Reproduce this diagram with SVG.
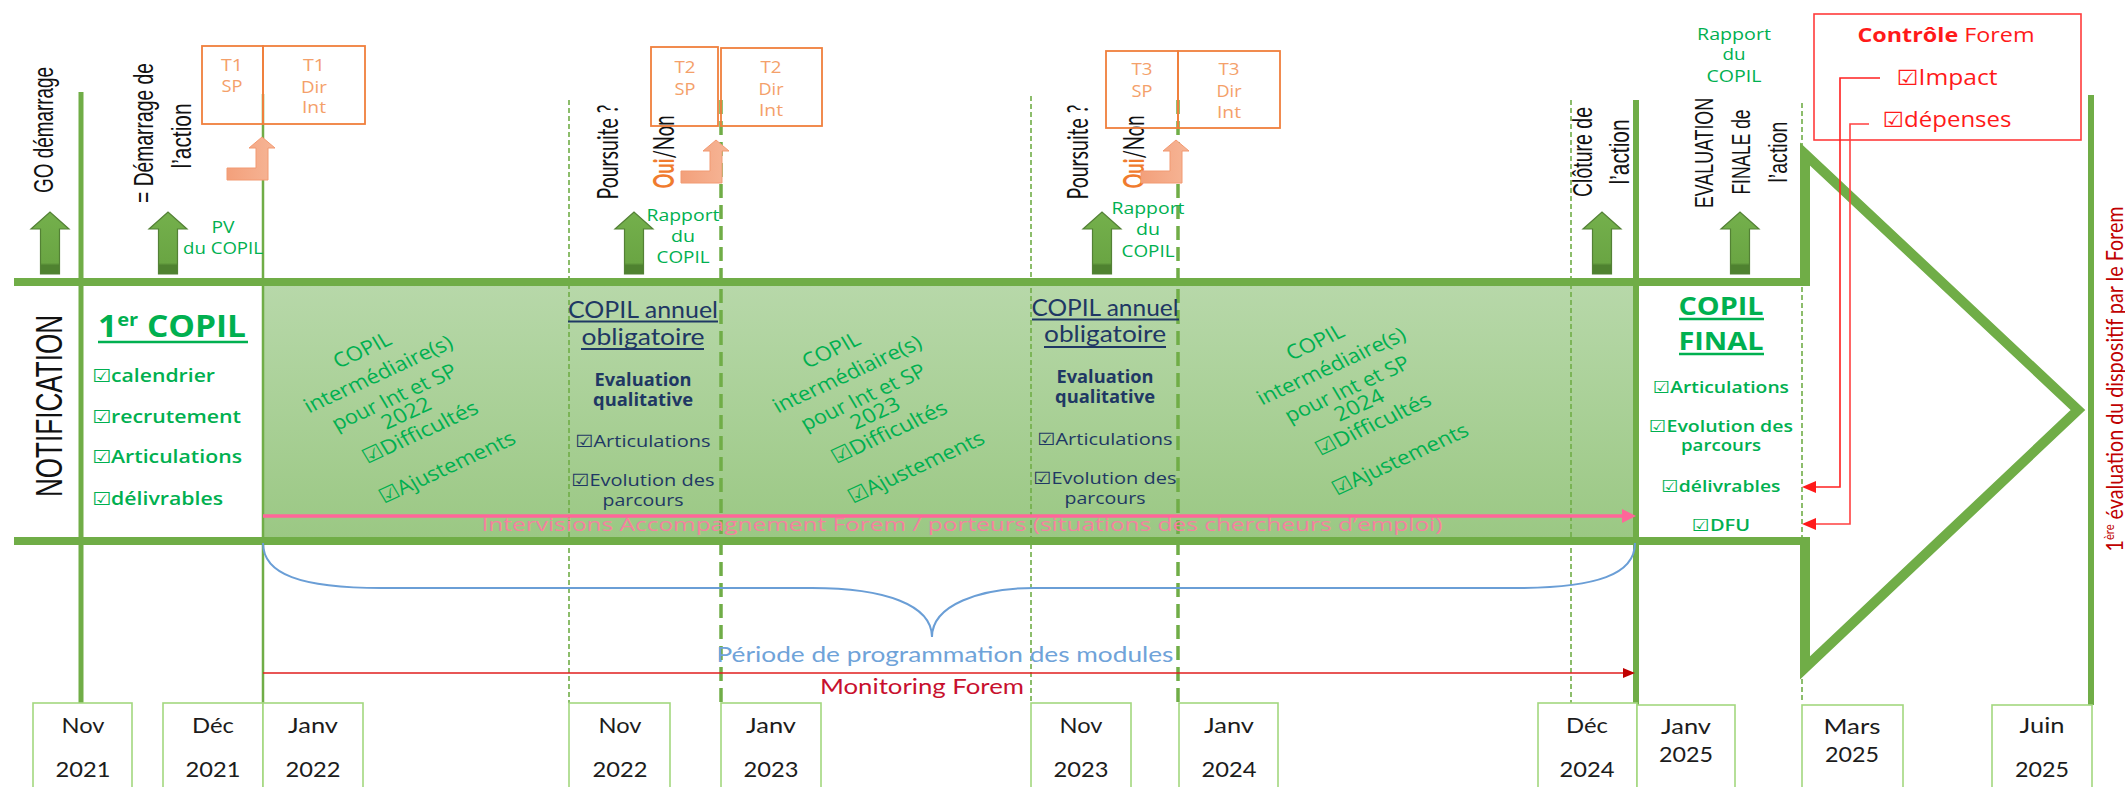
<svg xmlns="http://www.w3.org/2000/svg" width="2125" height="787" viewBox="0 0 2125 787">
<style>
.sd{stroke:#70AD47;stroke-width:1.6;stroke-dasharray:5 3;fill:none}
.ld{stroke:#70AD47;stroke-width:3.5;stroke-dasharray:14 7;fill:none}
.sl{stroke:#70AD47;fill:none}
.tbox{fill:none;stroke:#F07F3C;stroke-width:1.8}
.dbox{fill:#fff;stroke:#A3D77F;stroke-width:1.6}
.lab{font-family:"Liberation Sans",Arial,sans-serif;fill:#111;text-anchor:middle}
.lato{font-family:Lato,"Liberation Sans",sans-serif}
.cal{font-family:Lato,"Liberation Sans",sans-serif}
.seg{font-family:"Open Sans","DejaVu Sans",sans-serif}
.grn{fill:#00B050}
.nav{fill:#1F3864}
.org{font-family:"Open Sans","DejaVu Sans",sans-serif;font-size:16px;fill:#F4A06A;text-anchor:middle}
.dt{font-family:Lato,"Liberation Sans",sans-serif;font-size:22px;fill:#1c1c1c;text-anchor:middle}
.ck{font-family:"Open Sans","DejaVu Sans",sans-serif;font-weight:600;fill:#00B050}
.nv{font-family:"Open Sans","DejaVu Sans",sans-serif;fill:#1F3864;text-anchor:middle;font-size:17px}
.diag{font-family:"Open Sans","DejaVu Sans",sans-serif;font-size:20px;fill:#00B050;text-anchor:middle}
.rap{font-family:"Open Sans","DejaVu Sans",sans-serif;font-size:16px;fill:#00B050;text-anchor:middle}
.up{fill:url(#arrowFill);stroke:#538135;stroke-width:1.2}
.bent{fill:url(#bentFill);stroke:#F29A72;stroke-width:1}
</style>
<defs>
  <linearGradient id="bandFill" x1="0" y1="0" x2="0" y2="1">
    <stop offset="0" stop-color="#B7D8A9"/>
    <stop offset="1" stop-color="#9BC884"/>
  </linearGradient>
  <linearGradient id="arrowFill" x1="0" y1="0" x2="0" y2="1">
    <stop offset="0" stop-color="#74B04C"/>
    <stop offset="0.82" stop-color="#6AA543"/>
    <stop offset="0.86" stop-color="#4F8230"/>
    <stop offset="1" stop-color="#4F8230"/>
  </linearGradient>
  <linearGradient id="bentFill" x1="0" y1="0" x2="1" y2="0">
    <stop offset="0" stop-color="#F3A07B"/>
    <stop offset="1" stop-color="#F6B596"/>
  </linearGradient>
  <path id="upArrow" d="M-9.5,274 V229 H-19 L0,212 L19,229 H9.5 V274 Z"/>
  <path id="bentArrow" d="M-35,168 H-6 V148 H-13 L0,137 L13,148 H6 V180 H-35 Z"/>
  <marker id="pinkHead" markerUnits="userSpaceOnUse" markerWidth="14" markerHeight="14" viewBox="0 0 14 14" refX="0" refY="7" orient="auto">
    <path d="M0,0 L14,7 L0,14 Z" fill="#FF6699"/>
  </marker>
  <marker id="monHead" markerUnits="userSpaceOnUse" markerWidth="12" markerHeight="10" viewBox="0 0 12 10" refX="0" refY="5" orient="auto">
    <path d="M0,0 L12,5 L0,10 Z" fill="#C00000"/>
  </marker>
  <marker id="redHead" markerUnits="userSpaceOnUse" markerWidth="14" markerHeight="12" viewBox="0 0 14 12" refX="0" refY="6" orient="auto">
    <path d="M0,0 L14,6 L0,12 Z" fill="#FF1A1A"/>
  </marker>
</defs>

<rect width="2125" height="787" fill="#fff"/>

<g id="band-fill">
  <rect x="263" y="286" width="1373" height="251" fill="url(#bandFill)"/>
</g>

<g id="timeline">
  <line class="sl" x1="81" y1="92" x2="81" y2="703" stroke-width="5"/>
  <line class="sl" x1="263" y1="94" x2="263" y2="703" stroke-width="2.5"/>
  <line class="sd" x1="569" y1="100" x2="569" y2="703"/>
  <line class="ld" x1="721" y1="100" x2="721" y2="703"/>
  <line class="sd" x1="1031" y1="96" x2="1031" y2="703"/>
  <line class="ld" x1="1178" y1="100" x2="1178" y2="703"/>
  <line class="sd" x1="1571" y1="100" x2="1571" y2="703"/>
  <line class="sl" x1="1636" y1="100" x2="1636" y2="705" stroke-width="6"/>
  <line class="sd" x1="1802" y1="103" x2="1802" y2="703"/>
  <line class="sl" x1="2091" y1="95" x2="2091" y2="705" stroke-width="6"/>
</g>

<g id="frame">
  <line class="sl" x1="14" y1="282" x2="1810" y2="282" stroke-width="8"/>
  <line class="sl" x1="14" y1="541" x2="1810" y2="541" stroke-width="8"/>
  <path class="sl" d="M1805,286 V154 L2078,410 L1805,668 V537" stroke-width="10" stroke-linejoin="miter"/>
</g>

<g id="label-go">
  <text class="lab" font-size="27" transform="translate(53,130) rotate(-90)" textLength="126" lengthAdjust="spacingAndGlyphs">GO démarrage</text>
  <use href="#upArrow" class="up" transform="translate(50,0)"/>
</g>
<g id="label-demarrage">
  <text class="lab" font-size="27" transform="translate(153,133) rotate(-90)" textLength="140" lengthAdjust="spacingAndGlyphs">= Démarrage de</text>
  <text class="lab" font-size="27" transform="translate(191,136) rotate(-90)" textLength="65" lengthAdjust="spacingAndGlyphs">l’action</text>
  <use href="#upArrow" class="up" transform="translate(168,0)"/>
  <text class="rap" x="223" y="233" textLength="23" lengthAdjust="spacingAndGlyphs">PV</text>
  <text class="rap" x="223" y="254" textLength="80" lengthAdjust="spacingAndGlyphs">du COPIL</text>
</g>
<g id="t1">
  <rect class="tbox" x="202" y="46" width="61" height="78"/>
  <rect class="tbox" x="263" y="46" width="102" height="78"/>
  <text class="org" x="232" y="71" textLength="22" lengthAdjust="spacingAndGlyphs">T1</text>
  <text class="org" x="232" y="92" textLength="21" lengthAdjust="spacingAndGlyphs">SP</text>
  <text class="org" x="314" y="71" textLength="22" lengthAdjust="spacingAndGlyphs">T1</text>
  <text class="org" x="314" y="93" textLength="26" lengthAdjust="spacingAndGlyphs">Dir</text>
  <text class="org" x="314" y="113" textLength="24" lengthAdjust="spacingAndGlyphs">Int</text>
</g>
<g id="poursuite-2022">
  <text class="lab lato" font-size="28" transform="translate(618,152) rotate(-90)" textLength="95" lengthAdjust="spacingAndGlyphs">Poursuite ?</text>
  <text class="lab lato" font-size="28" transform="translate(674,152) rotate(-90)" textLength="73" lengthAdjust="spacingAndGlyphs"><tspan fill="#F07B2E" font-weight="bold">Oui</tspan>/Non</text>
  <use href="#upArrow" class="up" transform="translate(634,0)"/>
  <text class="rap" x="683" y="221" textLength="73" lengthAdjust="spacingAndGlyphs">Rapport</text>
  <text class="rap" x="683" y="242" textLength="24" lengthAdjust="spacingAndGlyphs">du</text>
  <text class="rap" x="683" y="263" textLength="53" lengthAdjust="spacingAndGlyphs">COPIL</text>
</g>
<g id="t2">
  <rect class="tbox" x="651" y="47" width="67" height="79"/>
  <rect class="tbox" x="721" y="48" width="101" height="78"/>
  <text class="org" x="685" y="73" textLength="21" lengthAdjust="spacingAndGlyphs">T2</text>
  <text class="org" x="685" y="95" textLength="21" lengthAdjust="spacingAndGlyphs">SP</text>
  <text class="org" x="771" y="73" textLength="21" lengthAdjust="spacingAndGlyphs">T2</text>
  <text class="org" x="771" y="95" textLength="25" lengthAdjust="spacingAndGlyphs">Dir</text>
  <text class="org" x="771" y="116" textLength="24" lengthAdjust="spacingAndGlyphs">Int</text>
</g>
<g id="poursuite-2023">
  <text class="lab lato" font-size="28" transform="translate(1088,152) rotate(-90)" textLength="95" lengthAdjust="spacingAndGlyphs">Poursuite ?</text>
  <text class="lab lato" font-size="28" transform="translate(1144,152) rotate(-90)" textLength="73" lengthAdjust="spacingAndGlyphs"><tspan fill="#F07B2E" font-weight="bold">Oui</tspan>/Non</text>
  <use href="#upArrow" class="up" transform="translate(1102,0)"/>
  <text class="rap" x="1148" y="214" textLength="73" lengthAdjust="spacingAndGlyphs">Rapport</text>
  <text class="rap" x="1148" y="235" textLength="24" lengthAdjust="spacingAndGlyphs">du</text>
  <text class="rap" x="1148" y="257" textLength="53" lengthAdjust="spacingAndGlyphs">COPIL</text>
</g>
<g id="t3">
  <rect class="tbox" x="1106" y="51" width="72" height="77"/>
  <rect class="tbox" x="1178" y="51" width="102" height="77"/>
  <text class="org" x="1142" y="75" textLength="21" lengthAdjust="spacingAndGlyphs">T3</text>
  <text class="org" x="1142" y="97" textLength="21" lengthAdjust="spacingAndGlyphs">SP</text>
  <text class="org" x="1229" y="75" textLength="21" lengthAdjust="spacingAndGlyphs">T3</text>
  <text class="org" x="1229" y="97" textLength="25" lengthAdjust="spacingAndGlyphs">Dir</text>
  <text class="org" x="1229" y="118" textLength="24" lengthAdjust="spacingAndGlyphs">Int</text>
</g>
<g id="label-cloture">
  <text class="lab" font-size="27" transform="translate(1592,152) rotate(-90)" textLength="90" lengthAdjust="spacingAndGlyphs">Clôture de</text>
  <text class="lab" font-size="27" transform="translate(1629,152) rotate(-90)" textLength="65" lengthAdjust="spacingAndGlyphs">l’action</text>
  <use href="#upArrow" class="up" transform="translate(1602,0)"/>
</g>
<g id="label-evaluation">
  <text class="rap" x="1734" y="40" textLength="74" lengthAdjust="spacingAndGlyphs">Rapport</text>
  <text class="rap" x="1734" y="60" textLength="23" lengthAdjust="spacingAndGlyphs">du</text>
  <text class="rap" x="1734" y="82" textLength="55" lengthAdjust="spacingAndGlyphs">COPIL</text>
  <text class="lab" font-size="26" transform="translate(1713,153) rotate(-90)" textLength="110" lengthAdjust="spacingAndGlyphs">EVALUATION</text>
  <text class="lab" font-size="26" transform="translate(1750,152) rotate(-90)" textLength="85" lengthAdjust="spacingAndGlyphs">FINALE de</text>
  <text class="lab" font-size="26" transform="translate(1787,152) rotate(-90)" textLength="61" lengthAdjust="spacingAndGlyphs">l’action</text>
  <use href="#upArrow" class="up" transform="translate(1740,0)"/>
</g>
<g id="controle-forem">
  <rect x="1814" y="14" width="267" height="126" fill="none" stroke="#FF3B3B" stroke-width="1.6"/>
  <text class="seg" x="1946" y="42" font-size="20" fill="#FF1A1A" text-anchor="middle" textLength="177" lengthAdjust="spacingAndGlyphs"><tspan font-weight="bold">Contrôle</tspan> Forem</text>
  <text class="seg" x="1947" y="85" font-size="21" fill="#FF1A1A" text-anchor="middle" textLength="101" lengthAdjust="spacingAndGlyphs">☑Impact</text>
  <text class="seg" x="1947" y="127" font-size="21" fill="#FF1A1A" text-anchor="middle" textLength="129" lengthAdjust="spacingAndGlyphs">☑dépenses</text>
</g>
<g id="label-1ere-evaluation">
  <text class="cal" font-size="23" fill="#C00000" text-anchor="middle" transform="translate(2123,379) rotate(-90)" textLength="345" lengthAdjust="spacingAndGlyphs">1<tspan font-size="13" dy="-9">ère</tspan><tspan dy="9"> évaluation du dispositif par le Forem</tspan></text>
</g>

<g id="notification">
  <text class="lab" font-size="36" transform="translate(62,406) rotate(-90)" textLength="182" lengthAdjust="spacingAndGlyphs">NOTIFICATION</text>
</g>
<g id="copil-1er">
  <text class="seg grn" x="172" y="337" font-size="30" font-weight="bold" text-anchor="middle" textLength="148" lengthAdjust="spacingAndGlyphs">1<tspan font-size="18" dy="-11">er</tspan><tspan dy="11"> COPIL</tspan></text>
  <line x1="98" y1="342" x2="248" y2="342" stroke="#00B050" stroke-width="2.5"/>
  <text class="ck" x="92" y="382" font-size="18" textLength="123" lengthAdjust="spacingAndGlyphs">☑calendrier</text>
  <text class="ck" x="92" y="423" font-size="18" textLength="149" lengthAdjust="spacingAndGlyphs">☑recrutement</text>
  <text class="ck" x="92" y="463" font-size="18" textLength="150" lengthAdjust="spacingAndGlyphs">☑Articulations</text>
  <text class="ck" x="92" y="505" font-size="18" textLength="131" lengthAdjust="spacingAndGlyphs">☑délivrables</text>
</g>

<g id="copil-inter-2022">
  <text class="diag" transform="translate(362,350) scale(1.15,1) rotate(-27.7)" dy="0.35em" textLength="54" lengthAdjust="spacingAndGlyphs">COPIL</text>
  <text class="diag" transform="translate(378,374) scale(1.15,1) rotate(-27.7)" dy="0.35em" textLength="143" lengthAdjust="spacingAndGlyphs">intermédiaire(s)</text>
  <text class="diag" transform="translate(394,397) scale(1.15,1) rotate(-27.7)" dy="0.35em" textLength="120" lengthAdjust="spacingAndGlyphs">pour Int et SP</text>
  <text class="diag" transform="translate(406,413) scale(1.15,1) rotate(-27.7)" dy="0.35em" textLength="46" lengthAdjust="spacingAndGlyphs" fill="#fff">2022</text>
  <text class="diag" transform="translate(420,432) scale(1.15,1) rotate(-27.7)" dy="0.35em" textLength="111" lengthAdjust="spacingAndGlyphs">☑Difficultés</text>
  <text class="diag" transform="translate(447,467) scale(1.15,1) rotate(-27.7)" dy="0.35em" textLength="131" lengthAdjust="spacingAndGlyphs">☑Ajustements</text>
</g>
<g id="copil-inter-2023" transform="translate(469,0)">
  <text class="diag" transform="translate(362,350) scale(1.15,1) rotate(-27.7)" dy="0.35em" textLength="54" lengthAdjust="spacingAndGlyphs">COPIL</text>
  <text class="diag" transform="translate(378,374) scale(1.15,1) rotate(-27.7)" dy="0.35em" textLength="143" lengthAdjust="spacingAndGlyphs">intermédiaire(s)</text>
  <text class="diag" transform="translate(394,397) scale(1.15,1) rotate(-27.7)" dy="0.35em" textLength="120" lengthAdjust="spacingAndGlyphs">pour Int et SP</text>
  <text class="diag" transform="translate(406,413) scale(1.15,1) rotate(-27.7)" dy="0.35em" textLength="46" lengthAdjust="spacingAndGlyphs" fill="#fff">2023</text>
  <text class="diag" transform="translate(420,432) scale(1.15,1) rotate(-27.7)" dy="0.35em" textLength="111" lengthAdjust="spacingAndGlyphs">☑Difficultés</text>
  <text class="diag" transform="translate(447,467) scale(1.15,1) rotate(-27.7)" dy="0.35em" textLength="131" lengthAdjust="spacingAndGlyphs">☑Ajustements</text>
</g>
<g id="copil-inter-2024" transform="translate(953,-8)">
  <text class="diag" transform="translate(362,350) scale(1.15,1) rotate(-27.7)" dy="0.35em" textLength="54" lengthAdjust="spacingAndGlyphs">COPIL</text>
  <text class="diag" transform="translate(378,374) scale(1.15,1) rotate(-27.7)" dy="0.35em" textLength="143" lengthAdjust="spacingAndGlyphs">intermédiaire(s)</text>
  <text class="diag" transform="translate(394,397) scale(1.15,1) rotate(-27.7)" dy="0.35em" textLength="120" lengthAdjust="spacingAndGlyphs">pour Int et SP</text>
  <text class="diag" transform="translate(406,413) scale(1.15,1) rotate(-27.7)" dy="0.35em" textLength="46" lengthAdjust="spacingAndGlyphs" fill="#fff">2024</text>
  <text class="diag" transform="translate(420,432) scale(1.15,1) rotate(-27.7)" dy="0.35em" textLength="111" lengthAdjust="spacingAndGlyphs">☑Difficultés</text>
  <text class="diag" transform="translate(447,467) scale(1.15,1) rotate(-27.7)" dy="0.35em" textLength="131" lengthAdjust="spacingAndGlyphs">☑Ajustements</text>
</g>

<g id="copil-annuel-2022">
  <text class="cal nav" x="643" y="318" font-size="24" text-anchor="middle" textLength="150" lengthAdjust="spacingAndGlyphs">COPIL annuel</text>
  <line x1="568" y1="321.5" x2="718" y2="321.5" stroke="#1F3864" stroke-width="1.8"/>
  <text class="cal nav" x="643" y="345" font-size="24" text-anchor="middle" textLength="123" lengthAdjust="spacingAndGlyphs">obligatoire</text>
  <line x1="581" y1="349" x2="704" y2="349" stroke="#1F3864" stroke-width="1.8"/>
  <text class="nv" x="643" y="386" font-size="16" font-weight="bold" textLength="97" lengthAdjust="spacingAndGlyphs">Evaluation</text>
  <text class="nv" x="643" y="406" font-size="16" font-weight="bold" textLength="100" lengthAdjust="spacingAndGlyphs">qualitative</text>
  <text class="nv" x="643" y="447" textLength="135" lengthAdjust="spacingAndGlyphs">☑Articulations</text>
  <text class="nv" x="643" y="486" textLength="143" lengthAdjust="spacingAndGlyphs">☑Evolution des</text>
  <text class="nv" x="643" y="506" textLength="81" lengthAdjust="spacingAndGlyphs">parcours</text>
</g>
<g id="copil-annuel-2023">
  <text class="cal nav" x="1105" y="316" font-size="24" text-anchor="middle" textLength="147" lengthAdjust="spacingAndGlyphs">COPIL annuel</text>
  <line x1="1032" y1="319.5" x2="1179" y2="319.5" stroke="#1F3864" stroke-width="1.8"/>
  <text class="cal nav" x="1105" y="342" font-size="24" text-anchor="middle" textLength="122" lengthAdjust="spacingAndGlyphs">obligatoire</text>
  <line x1="1044" y1="347" x2="1166" y2="347" stroke="#1F3864" stroke-width="1.8"/>
  <text class="nv" x="1105" y="383" font-size="16" font-weight="bold" textLength="97" lengthAdjust="spacingAndGlyphs">Evaluation</text>
  <text class="nv" x="1105" y="403" font-size="16" font-weight="bold" textLength="100" lengthAdjust="spacingAndGlyphs">qualitative</text>
  <text class="nv" x="1105" y="445" textLength="135" lengthAdjust="spacingAndGlyphs">☑Articulations</text>
  <text class="nv" x="1105" y="484" textLength="143" lengthAdjust="spacingAndGlyphs">☑Evolution des</text>
  <text class="nv" x="1105" y="504" textLength="81" lengthAdjust="spacingAndGlyphs">parcours</text>
</g>
<g id="copil-final">
  <text class="seg grn" x="1721" y="315" font-size="25" font-weight="bold" text-anchor="middle" textLength="85" lengthAdjust="spacingAndGlyphs">COPIL</text>
  <line x1="1679" y1="319" x2="1764" y2="319" stroke="#00B050" stroke-width="2.5"/>
  <text class="seg grn" x="1721" y="350" font-size="25" font-weight="bold" text-anchor="middle" textLength="85" lengthAdjust="spacingAndGlyphs">FINAL</text>
  <line x1="1679" y1="354" x2="1764" y2="354" stroke="#00B050" stroke-width="2.5"/>
  <text class="ck" x="1721" y="393" font-size="16.5" text-anchor="middle" textLength="136" lengthAdjust="spacingAndGlyphs">☑Articulations</text>
  <text class="ck" x="1721" y="432" font-size="16.5" text-anchor="middle" textLength="144" lengthAdjust="spacingAndGlyphs">☑Evolution des</text>
  <text class="ck" x="1721" y="451" font-size="16.5" text-anchor="middle" textLength="80" lengthAdjust="spacingAndGlyphs">parcours</text>
  <text class="ck" x="1721" y="492" font-size="16.5" text-anchor="middle" textLength="119" lengthAdjust="spacingAndGlyphs">☑délivrables</text>
  <text class="ck" x="1721" y="531" font-size="16.5" text-anchor="middle" textLength="58" lengthAdjust="spacingAndGlyphs">☑DFU</text>
</g>
<g id="intervisions">
  <text class="seg" x="962" y="531" font-size="19" fill="#F5819F" text-anchor="middle" textLength="961" lengthAdjust="spacingAndGlyphs">Intervisions Accompagnement Forem / porteurs (situations des chercheurs d’emploi)</text>
</g>
<g id="periode">
  <text class="cal" x="945" y="662" font-size="21" fill="#6FA3D9" text-anchor="middle" textLength="457" lengthAdjust="spacingAndGlyphs">Période de programmation des modules</text>
</g>
<g id="monitoring">
  <text class="cal" x="922" y="694" font-size="21" fill="#C8102E" text-anchor="middle" textLength="204" lengthAdjust="spacingAndGlyphs">Monitoring Forem</text>
</g>

<g id="connectors">
  <use href="#bentArrow" class="bent" transform="translate(262,0)"/>
  <use href="#bentArrow" class="bent" transform="translate(716,3)"/>
  <use href="#bentArrow" class="bent" transform="translate(1176,3)"/>
  <line x1="263" y1="516" x2="1622" y2="516" stroke="#FF6699" stroke-width="3.5" marker-end="url(#pinkHead)"/>
  <path d="M263,543 C263,574 300,588 382,588 L812,588 C885,588 932,605 932,637 C932,605 980,588 1034,588 L1515,588 C1598,588 1635,574 1635,543" fill="none" stroke="#6A9ED6" stroke-width="2"/>
  <line x1="263" y1="673" x2="1623" y2="673" stroke="#E01E1E" stroke-width="1.6" marker-end="url(#monHead)"/>
  <path d="M1880,78 H1840 V487 H1816" fill="none" stroke="#FF2020" stroke-width="1.6" marker-end="url(#redHead)"/>
  <path d="M1869,124 H1850 V524 H1816" fill="none" stroke="#FF4040" stroke-width="1.6" marker-end="url(#redHead)"/>
</g>

<g id="date-nov-2021"><rect class="dbox" x="33" y="703" width="99" height="100"/><text class="dt" x="83" y="733" textLength="43" lengthAdjust="spacingAndGlyphs">Nov</text><text class="dt" x="83" y="777" textLength="55" lengthAdjust="spacingAndGlyphs">2021</text></g>
<g id="date-dec-2021"><rect class="dbox" x="163" y="703" width="100" height="100"/><text class="dt" x="213" y="733" textLength="42" lengthAdjust="spacingAndGlyphs">Déc</text><text class="dt" x="213" y="777" textLength="55" lengthAdjust="spacingAndGlyphs">2021</text></g>
<g id="date-janv-2022"><rect class="dbox" x="263" y="703" width="100" height="100"/><text class="dt" x="313" y="733" textLength="50" lengthAdjust="spacingAndGlyphs">Janv</text><text class="dt" x="313" y="777" textLength="55" lengthAdjust="spacingAndGlyphs">2022</text></g>
<g id="date-nov-2022"><rect class="dbox" x="569" y="703" width="101" height="100"/><text class="dt" x="620" y="733" textLength="43" lengthAdjust="spacingAndGlyphs">Nov</text><text class="dt" x="620" y="777" textLength="55" lengthAdjust="spacingAndGlyphs">2022</text></g>
<g id="date-janv-2023"><rect class="dbox" x="721" y="703" width="100" height="100"/><text class="dt" x="771" y="733" textLength="50" lengthAdjust="spacingAndGlyphs">Janv</text><text class="dt" x="771" y="777" textLength="55" lengthAdjust="spacingAndGlyphs">2023</text></g>
<g id="date-nov-2023"><rect class="dbox" x="1031" y="703" width="100" height="100"/><text class="dt" x="1081" y="733" textLength="43" lengthAdjust="spacingAndGlyphs">Nov</text><text class="dt" x="1081" y="777" textLength="55" lengthAdjust="spacingAndGlyphs">2023</text></g>
<g id="date-janv-2024"><rect class="dbox" x="1179" y="703" width="99" height="100"/><text class="dt" x="1229" y="733" textLength="50" lengthAdjust="spacingAndGlyphs">Janv</text><text class="dt" x="1229" y="777" textLength="55" lengthAdjust="spacingAndGlyphs">2024</text></g>
<g id="date-dec-2024"><rect class="dbox" x="1538" y="703" width="99" height="100"/><text class="dt" x="1587" y="733" textLength="42" lengthAdjust="spacingAndGlyphs">Déc</text><text class="dt" x="1587" y="777" textLength="55" lengthAdjust="spacingAndGlyphs">2024</text></g>
<g id="date-janv-2025"><rect class="dbox" x="1637" y="705" width="98" height="100"/><text class="dt" x="1686" y="734" textLength="50" lengthAdjust="spacingAndGlyphs">Janv</text><text class="dt" x="1686" y="762" textLength="54" lengthAdjust="spacingAndGlyphs">2025</text></g>
<g id="date-mars-2025"><rect class="dbox" x="1802" y="705" width="101" height="100"/><text class="dt" x="1852" y="734" textLength="57" lengthAdjust="spacingAndGlyphs">Mars</text><text class="dt" x="1852" y="762" textLength="54" lengthAdjust="spacingAndGlyphs">2025</text></g>
<g id="date-juin-2025"><rect class="dbox" x="1992" y="705" width="100" height="100"/><text class="dt" x="2042" y="733" textLength="45" lengthAdjust="spacingAndGlyphs">Juin</text><text class="dt" x="2042" y="777" textLength="54" lengthAdjust="spacingAndGlyphs">2025</text></g>
</svg>
